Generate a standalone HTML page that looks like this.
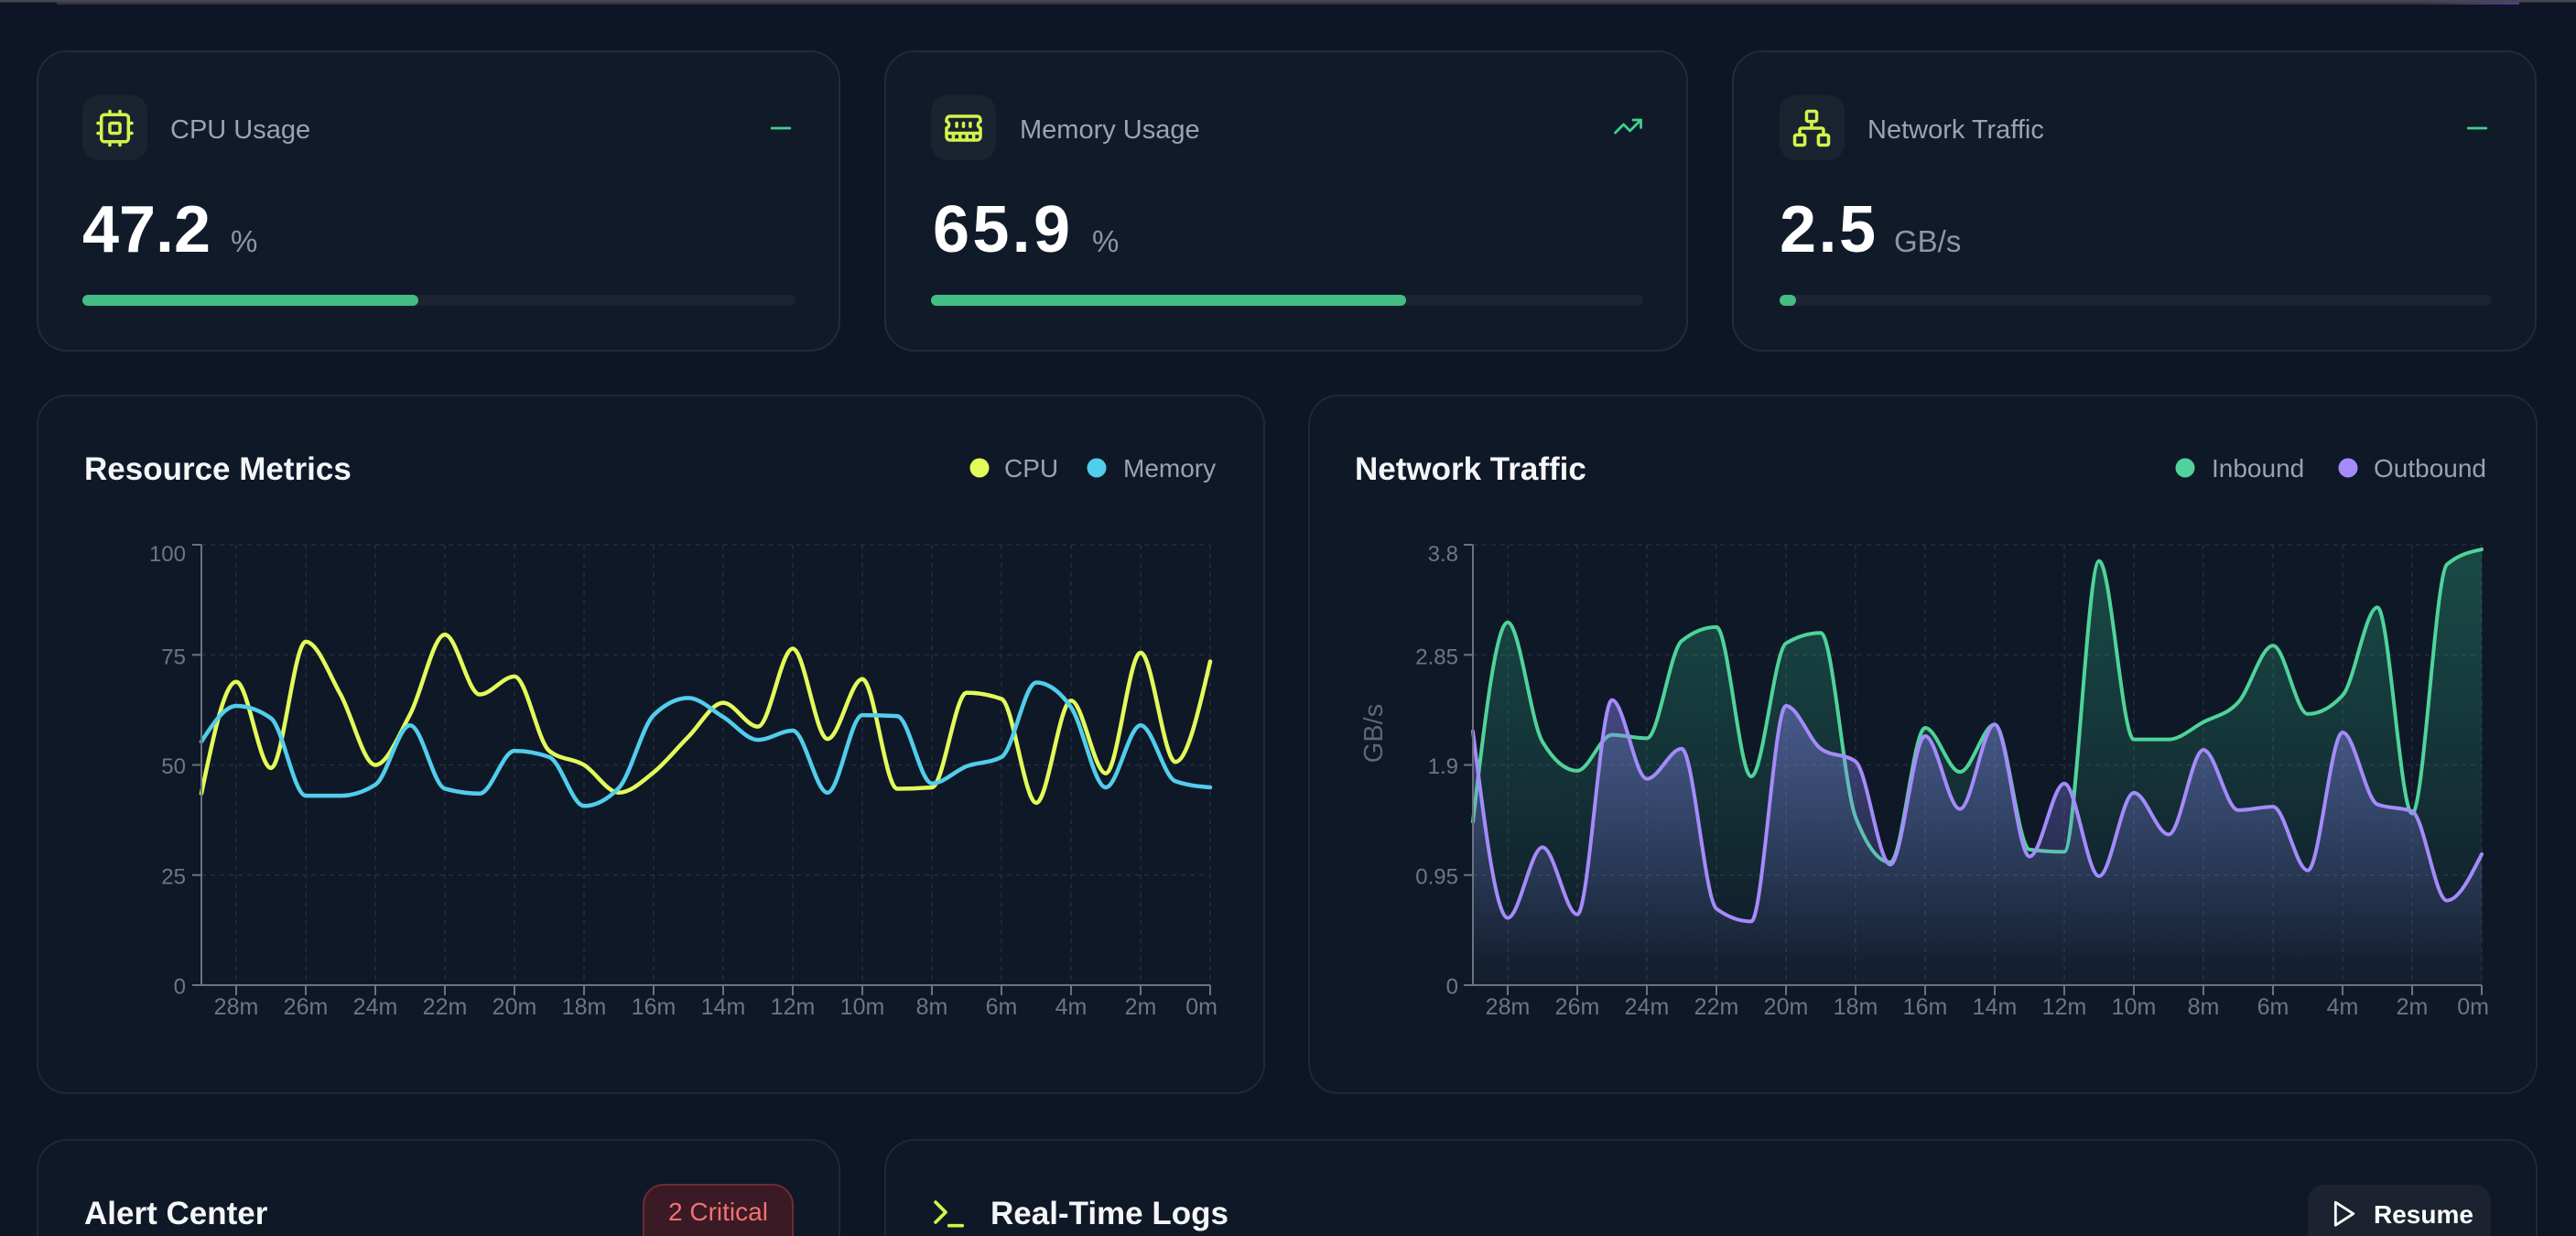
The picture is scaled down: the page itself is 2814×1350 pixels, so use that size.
<!DOCTYPE html>
<html><head><meta charset="utf-8">
<style>
html,body{margin:0;padding:0;background:#0d1526;width:2814px;height:1350px;overflow:hidden;}
svg{display:block;font-family:"Liberation Sans",Arial,sans-serif;}
</style></head>
<body>
<svg id="s" width="2814" height="1350" viewBox="0 0 2814 1350" xmlns="http://www.w3.org/2000/svg">
<defs>
 <linearGradient id="gIn" x1="0" y1="0" x2="0" y2="1">
  <stop offset="0.05" stop-color="#34d399" stop-opacity="0.26"/>
  <stop offset="0.95" stop-color="#34d399" stop-opacity="0.02"/>
 </linearGradient>
 <linearGradient id="gOut" x1="0" y1="0" x2="0" y2="1">
  <stop offset="0.05" stop-color="#8b84f6" stop-opacity="0.42"/>
  <stop offset="0.95" stop-color="#8b84f6" stop-opacity="0.03"/>
 </linearGradient>
 <linearGradient id="hdr" x1="0" y1="0" x2="1" y2="0">
  <stop offset="0" stop-color="#30333d"/>
  <stop offset="0.96" stop-color="#30333d"/>
  <stop offset="1" stop-color="#4e3f95"/>
 </linearGradient>
</defs>
<rect width="2814" height="1350" fill="#0d1526"/>

<!-- header remnant -->
<rect x="62" y="0" width="2690" height="5" fill="url(#hdr)"/>
<rect x="0" y="0" width="2814" height="2.5" fill="#47484f"/>

<!-- stat cards -->
<rect x="41" y="56" width="876" height="327" rx="32" fill="#111a29" stroke="#222b3a" stroke-width="2"/>
<rect x="967" y="56" width="876" height="327" rx="32" fill="#111a29" stroke="#222b3a" stroke-width="2"/>
<rect x="1893" y="56" width="877" height="327" rx="32" fill="#111a29" stroke="#222b3a" stroke-width="2"/>

<!-- icon boxes -->
<rect x="90" y="104" width="71" height="71" rx="18" fill="#1a2330"/>
<rect x="1017" y="104" width="71" height="71" rx="18" fill="#1a2330"/>
<rect x="1944" y="104" width="71" height="71" rx="18" fill="#1a2330"/>

<!-- cpu icon -->
<g transform="translate(103.3,117.8) scale(1.85)" fill="none" stroke="#d4f34a" stroke-width="1.9" stroke-linecap="round" stroke-linejoin="round">
 <rect width="16" height="16" x="4" y="4" rx="2"/><rect width="6" height="6" x="9" y="9" rx="1"/>
 <path d="M15 2v2M15 20v2M2 15h2M2 9h2M20 15h2M20 9h2M9 2v2M9 20v2"/>
</g>
<!-- memory icon -->
<g transform="translate(1030.3,117.8) scale(1.85)" fill="none" stroke="#d4f34a" stroke-width="1.9" stroke-linecap="round" stroke-linejoin="round">
 <path d="M6 19v-3M10 19v-3M14 19v-3M18 19v-3M8 11V9M16 11V9M12 11V9M2 15h20"/>
 <path d="M2 7a2 2 0 0 1 2-2h16a2 2 0 0 1 2 2v1.1a2 2 0 0 0 0 3.837V17a2 2 0 0 1-2 2H4a2 2 0 0 1-2-2v-5.1a2 2 0 0 0 0-3.837Z"/>
</g>
<!-- network icon -->
<g transform="translate(1956.8,117.8) scale(1.85)" fill="none" stroke="#d4f34a" stroke-width="1.9" stroke-linecap="round" stroke-linejoin="round">
 <rect x="16" y="16" width="6" height="6" rx="1"/><rect x="2" y="16" width="6" height="6" rx="1"/><rect x="9" y="2" width="6" height="6" rx="1"/>
 <path d="M5 16v-3a1 1 0 0 1 1-1h12a1 1 0 0 1 1 1v3M12 12V8"/>
</g>

<!-- trend icons -->
<g transform="translate(836.2,123.2) scale(1.4)" fill="none" stroke="#3fcf8e" stroke-width="2" stroke-linecap="round"><path d="M5 12h14"/></g>
<g transform="translate(1761.7,121.2) scale(1.4)" fill="none" stroke="#3fcf8e" stroke-width="2" stroke-linecap="round" stroke-linejoin="round"><polyline points="22 7 13.5 15.5 8.5 10.5 2 17"/><polyline points="16 7 22 7 22 13"/></g>
<g transform="translate(2689.2,123.2) scale(1.4)" fill="none" stroke="#3fcf8e" stroke-width="2" stroke-linecap="round"><path d="M5 12h14"/></g>

<!-- stat text -->
<text x="186" y="151" font-size="29" fill="#9aa3b2">CPU Usage</text>
<text x="1114" y="151" font-size="29" fill="#9aa3b2">Memory Usage</text>
<text x="2040" y="151" font-size="29" fill="#9aa3b2">Network Traffic</text>

<text x="90" y="275" font-size="72" font-weight="bold" fill="#ffffff" textLength="140">47.2</text>
<text x="252" y="275" font-size="33" fill="#8d96a6">%</text>
<text x="1019" y="275" font-size="72" font-weight="bold" fill="#ffffff" textLength="150">65.9</text>
<text x="1193" y="275" font-size="33" fill="#8d96a6">%</text>
<text x="1944" y="275" font-size="72" font-weight="bold" fill="#ffffff" textLength="105">2.5</text>
<text x="2069" y="275" font-size="33" fill="#8d96a6">GB/s</text>

<!-- progress bars -->
<rect x="90" y="322" width="779" height="12" rx="6" fill="#1c2331"/>
<rect x="90" y="322" width="367" height="12" rx="6" fill="#43bd84"/>
<rect x="1017" y="322" width="778" height="12" rx="6" fill="#1c2331"/>
<rect x="1017" y="322" width="519" height="12" rx="6" fill="#43bd84"/>
<rect x="1944" y="322" width="778" height="12" rx="6" fill="#1c2331"/>
<rect x="1944" y="322" width="18" height="12" rx="6" fill="#43bd84"/>

<!-- chart cards -->
<rect x="41" y="432" width="1340" height="762" rx="32" fill="#0f1827" stroke="#1f2837" stroke-width="2"/>
<rect x="1430" y="432" width="1341" height="762" rx="32" fill="#0f1827" stroke="#1f2837" stroke-width="2"/>

<text x="92" y="524" font-size="35" font-weight="bold" fill="#f5f6f8">Resource Metrics</text>
<circle cx="1070" cy="511" r="10.5" fill="#e3fb5b"/>
<text x="1097" y="521" font-size="28" fill="#9aa2b1">CPU</text>
<circle cx="1198" cy="511" r="10.5" fill="#52cdec"/>
<text x="1227" y="521" font-size="28" fill="#9aa2b1">Memory</text>

<text x="1480" y="524" font-size="35" font-weight="bold" fill="#f5f6f8">Network Traffic</text>
<circle cx="2387" cy="511" r="10.5" fill="#4fd39a"/>
<text x="2416" y="521" font-size="28" fill="#9aa2b1">Inbound</text>
<circle cx="2565" cy="511" r="10.5" fill="#a58bfa"/>
<text x="2593" y="521" font-size="28" fill="#9aa2b1">Outbound</text>

<g id="charts"></g>

<!-- resource y labels -->
<g font-size="24" fill="#6e7685" text-anchor="end">
 <text x="203" y="613">100</text>
 <text x="203" y="725.5">75</text>
 <text x="203" y="845">50</text>
 <text x="203" y="965.5">25</text>
 <text x="203" y="1085.5">0</text>
</g>
<g font-size="25" fill="#6e7685" text-anchor="middle">
 <text x="258" y="1108">28m</text><text x="334" y="1108">26m</text><text x="410" y="1108">24m</text>
 <text x="486" y="1108">22m</text><text x="562" y="1108">20m</text><text x="638" y="1108">18m</text>
 <text x="714" y="1108">16m</text><text x="790" y="1108">14m</text><text x="866" y="1108">12m</text>
 <text x="942" y="1108">10m</text><text x="1018" y="1108">8m</text><text x="1094" y="1108">6m</text>
 <text x="1170" y="1108">4m</text><text x="1246" y="1108">2m</text>
 <text x="1330" y="1108" text-anchor="end">0m</text>
</g>

<!-- network y labels -->
<g font-size="24" fill="#6e7685" text-anchor="end">
 <text x="1593" y="613">3.8</text>
 <text x="1593" y="725.5">2.85</text>
 <text x="1593" y="845">1.9</text>
 <text x="1593" y="965.5">0.95</text>
 <text x="1593" y="1085.5">0</text>
</g>
<text transform="translate(1510,801) rotate(-90)" font-size="29" fill="#5f6777" text-anchor="middle">GB/s</text>
<g font-size="25" fill="#6e7685" text-anchor="middle">
 <text x="1647" y="1108">28m</text><text x="1723" y="1108">26m</text><text x="1799" y="1108">24m</text>
 <text x="1875" y="1108">22m</text><text x="1951" y="1108">20m</text><text x="2027" y="1108">18m</text>
 <text x="2103" y="1108">16m</text><text x="2179" y="1108">14m</text><text x="2255" y="1108">12m</text>
 <text x="2331" y="1108">10m</text><text x="2407" y="1108">8m</text><text x="2483" y="1108">6m</text>
 <text x="2559" y="1108">4m</text><text x="2635" y="1108">2m</text>
 <text x="2719" y="1108" text-anchor="end">0m</text>
</g>

<!-- bottom cards (open-bottom shapes, clipped at frame edge) -->
<path d="M41,1350 V1277 A32,32 0 0 1 73,1245 H885 A32,32 0 0 1 917,1277 V1350" fill="#0f1827" stroke="#1f2837" stroke-width="2"/>
<path d="M967,1350 V1277 A32,32 0 0 1 999,1245 H2739 A32,32 0 0 1 2771,1277 V1350" fill="#0f1827" stroke="#1f2837" stroke-width="2"/>
<text x="92" y="1337" font-size="35" font-weight="bold" fill="#f5f6f8">Alert Center</text>
<path d="M703,1350 V1316 A22,22 0 0 1 725,1294 H844 A22,22 0 0 1 866,1316 V1350" fill="#3a1a24" stroke="#6e2a33" stroke-width="2"/>
<text x="784.5" y="1333" font-size="28" fill="#f47171" text-anchor="middle">2 Critical</text>

<g transform="translate(1014.7,1303.9) scale(1.83)" fill="none" stroke="#d4f34a" stroke-width="2" stroke-linecap="round" stroke-linejoin="round"><polyline points="4 17 10 11 4 5"/><line x1="12" x2="20" y1="19" y2="19"/></g>
<text x="1082" y="1337" font-size="35" font-weight="bold" fill="#f5f6f8">Real-Time Logs</text>
<path d="M2521,1350 V1312 A18,18 0 0 1 2539,1294 H2703 A18,18 0 0 1 2721,1312 V1350 Z" fill="#1c2230"/>
<g transform="translate(2543,1309) scale(1.39)" fill="none" stroke="#ffffff" stroke-width="2" stroke-linejoin="round"><polygon points="6 3 20 12 6 21 6 3"/></g>
<text x="2593" y="1336" font-size="28" font-weight="bold" fill="#ffffff">Resume</text>
</svg>
<script>
(function(){
const NS='http://www.w3.org/2000/svg';
const g=document.getElementById('charts');
function el(tag,attrs){const e=document.createElementNS(NS,tag);for(const k in attrs)e.setAttribute(k,attrs[k]);g.appendChild(e);return e;}
function sg(x){return x<0?-1:1;}
function mono(P){
 const n=P.length,t=[];
 for(let i=1;i<n-1;i++){
  const h0=P[i][0]-P[i-1][0],h1=P[i+1][0]-P[i][0];
  const s0=(P[i][1]-P[i-1][1])/h0,s1=(P[i+1][1]-P[i][1])/h1;
  const p=(s0*h1+s1*h0)/(h0+h1);
  t[i]=(sg(s0)+sg(s1))*Math.min(Math.abs(s0),Math.abs(s1),0.5*Math.abs(p))||0;
 }
 t[0]=(3*(P[1][1]-P[0][1])/(P[1][0]-P[0][0])-t[1])/2;
 t[n-1]=(3*(P[n-1][1]-P[n-2][1])/(P[n-1][0]-P[n-2][0])-t[n-2])/2;
 const f=v=>v.toFixed(2);
 let d='M'+f(P[0][0])+','+f(P[0][1]);
 for(let i=0;i<n-1;i++){
  const dx=(P[i+1][0]-P[i][0])/3;
  d+='C'+f(P[i][0]+dx)+','+f(P[i][1]+dx*t[i])+','+f(P[i+1][0]-dx)+','+f(P[i+1][1]-dx*t[i+1])+','+f(P[i+1][0])+','+f(P[i+1][1]);
 }
 return d;
}
const yTop=595,yBot=1076;
const yt=[595,715.25,835.5,955.75,1076];
function frame(ax,right){
 for(let k=0;k<4;k++) el('line',{x1:ax,x2:right,y1:yt[k],y2:yt[k],stroke:'#232d3d','stroke-width':1.6,'stroke-dasharray':'5 5'});
 for(let i=1;i<30;i+=2){const x=ax+38*i; el('line',{x1:x,x2:x,y1:yTop,y2:yBot,stroke:'#232d3d','stroke-width':1.6,'stroke-dasharray':'5 5'});}
}
function axes(ax,right){
 el('line',{x1:ax,x2:ax,y1:yTop,y2:yBot,stroke:'#6b7280','stroke-width':2});
 el('line',{x1:ax,x2:right,y1:yBot,y2:yBot,stroke:'#6b7280','stroke-width':2});
 for(const y of yt) el('line',{x1:ax-10,x2:ax,y1:y,y2:y,stroke:'#6b7280','stroke-width':2});
 for(let i=1;i<30;i+=2){const x=ax+38*i; el('line',{x1:x,x2:x,y1:yBot,y2:yBot+11,stroke:'#6b7280','stroke-width':2});}
}
const cpu=[43.5,68.9,49.3,78.0,66,50.0,61.5,79.6,66.0,70.1,53.2,50.0,43.7,48.3,56.4,64.1,58.7,76.4,55.9,69.5,44.6,44.9,66.4,65.0,41.4,64.6,48.1,75.5,50.7,73.5];
const mem=[55.3,63.4,60.6,43.0,43.0,45.5,59.0,44.6,43.5,53.2,51.8,40.7,44.8,61.3,65.2,60.9,55.7,57.8,43.7,61.3,61.1,45.8,49.7,51.8,68.7,63.1,44.9,59.0,46.3,44.9];
const ax1=220,r1=1322;
frame(ax1,r1);
const ry=v=>yBot-v/100*481;
el('path',{d:mono(cpu.map((v,i)=>[ax1+38*i,ry(v)])),fill:'none',stroke:'#e3fb5b','stroke-width':4.5,'stroke-linejoin':'round','stroke-linecap':'round'});
el('path',{d:mono(mem.map((v,i)=>[ax1+38*i,ry(v)])),fill:'none',stroke:'#52cdec','stroke-width':4.5,'stroke-linejoin':'round','stroke-linecap':'round'});
axes(ax1,r1);
const inb=[1.41,3.13,2.10,1.85,2.16,2.13,2.97,3.09,1.80,2.95,3.04,1.45,1.06,2.22,1.84,2.25,1.17,1.15,3.66,2.12,2.12,2.27,2.44,2.93,2.34,2.50,3.26,1.48,3.63,3.76];
const outb=[2.19,0.58,1.19,0.61,2.46,1.78,2.04,0.66,0.55,2.41,2.04,1.93,1.04,2.15,1.52,2.25,1.11,1.74,0.94,1.66,1.30,2.03,1.51,1.54,0.99,2.18,1.56,1.50,0.73,1.13];
const ax2=1609,r2=2711;
frame(ax2,r2);
const ny=v=>yBot-v/3.8*481;
const pIn=mono(inb.map((v,i)=>[ax2+38*i,ny(v)]));
const pOut=mono(outb.map((v,i)=>[ax2+38*i,ny(v)]));
el('path',{d:pIn+'L'+r2+','+yBot+'L'+ax2+','+yBot+'Z',fill:'url(#gIn)',stroke:'none'});
el('path',{d:pIn,fill:'none',stroke:'#4fd39a','stroke-width':4,'stroke-linejoin':'round','stroke-linecap':'round'});
el('path',{d:pOut+'L'+r2+','+yBot+'L'+ax2+','+yBot+'Z',fill:'url(#gOut)',stroke:'none'});
el('path',{d:pOut,fill:'none',stroke:'#a58bfa','stroke-width':4,'stroke-linejoin':'round','stroke-linecap':'round'});
axes(ax2,r2);
})();
</script>
</body></html>
